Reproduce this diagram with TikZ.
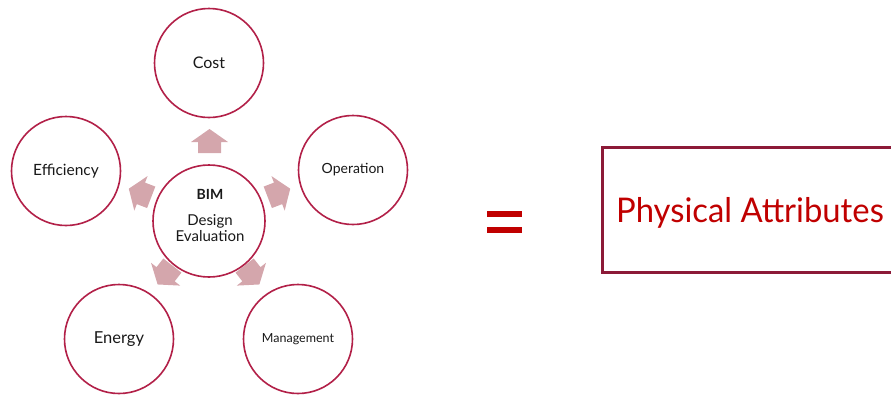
\documentclass[tikz,border=0pt]{standalone}
\usepackage{fontspec}
\setmainfont{Lato}
\definecolor{ringred}{RGB}{178,32,72}
\definecolor{arrowpink}{RGB}{212,166,172}
\definecolor{boxmaroon}{RGB}{140,26,56}
\definecolor{textred}{RGB}{192,0,0}
\definecolor{labelgray}{RGB}{25,25,25}
\newcommand{\blockarrow}[3]{%
  \fill[arrowpink, shift={(#1,#2)}, rotate=#3]
    (-12,-11.5) -- (-1,-11.5) -- (-1,-18.5) -- (12,0) -- (-1,18.5) -- (-1,11.5) -- (-12,11.5) -- cycle;}
\begin{document}
\begin{tikzpicture}[x=1pt,y=-1pt,
  ring/.style={circle, draw=ringred, line width=1.6pt, fill=white, minimum size=109pt, inner sep=0pt, text=labelgray, align=center},
  lbl/.style={text=labelgray, inner sep=0pt}]
\useasboundingbox (0,0) rectangle (891,394);
% arrows
\blockarrow{209.5}{141}{90}
\blockarrow{279}{193}{21}
\blockarrow{140}{193}{159}
\blockarrow{165}{275}{-128}
\blockarrow{252}{275}{-52}
% circles
\node[ring, minimum size=112pt] (center) at (209,221) {};
\node[lbl, font=\fontsize{14}{16}\selectfont\bfseries] (bim) at (210,194) {BIM};
\node[lbl, font=\fontsize{15}{17}\selectfont, align=center] (de) at (210,228) {Design\\[-1pt]Evaluation};
\node[ring, font=\fontsize{16}{18}\selectfont] (cost) at (209,63) {Cost};
\node[ring, font=\fontsize{15.5}{18}\selectfont] (eff) at (66,171) {Efficiency};
\node[ring, font=\fontsize{14}{18}\selectfont] (op) at (353,170) {Operation};
\node[ring, font=\fontsize{16.5}{18}\selectfont] (energy) at (119,339) {Energy};
\node[ring, font=\fontsize{12.5}{18}\selectfont] (mgmt) at (298,339) {Management};
% equals
\fill[textred] (487,211) rectangle (522,217);
\fill[textred] (487,227) rectangle (522,233);
% box
\draw[boxmaroon, line width=3pt] (602,147) rectangle (905,272);
\node[text=textred, font=\fontsize{34}{40}\selectfont, anchor=base west, inner sep=0pt] (phys) at (616,222) {\scalebox{0.965}[1]{Physical Attributes}};
\end{tikzpicture}
\end{document}
